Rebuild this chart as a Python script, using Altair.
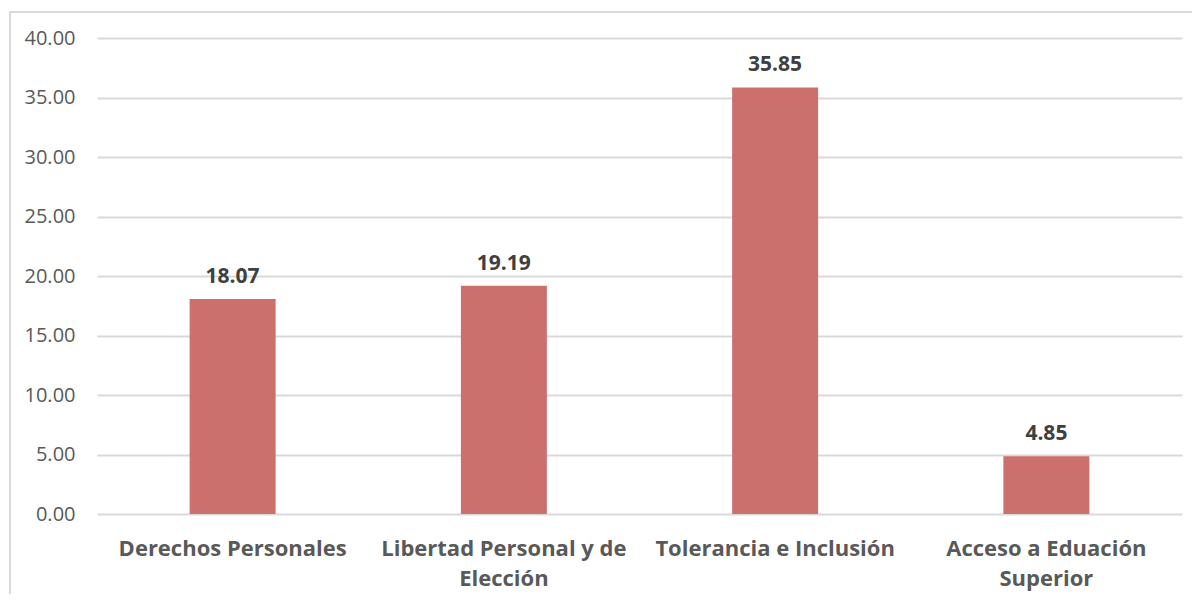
import altair as alt
import pandas as pd

categories = ["Derechos Personales", "Libertad Personal y de|Elección",
              "Tolerancia e Inclusión", "Acceso a Eduación|Superior"]
values = [18.07, 19.19, 35.85, 4.85]

df = pd.DataFrame({"cat": categories, "val": values})

W, H = 1085, 476
FONT = "Open Sans"

x = alt.X("cat:N", sort=categories, title=None,
          scale=alt.Scale(paddingInner=0, paddingOuter=0),
          axis=alt.Axis(labelExpr="split(datum.label, '|')", labelAngle=0,
                        labelFont=FONT, labelFontSize=22, labelFontWeight="bold",
                        labelColor="#595959", labelPadding=24, labelLineHeight=30,
                        labelLimit=0, ticks=False, domain=False, labelBaseline="top"))
y = alt.Y("val:Q", title=None,
          scale=alt.Scale(domain=[0, 40], nice=False),
          axis=alt.Axis(values=[0, 5, 10, 15, 20, 25, 30, 35, 40], format=".2f",
                        labelFont=FONT, labelFontSize=20, labelColor="#595959",
                        labelPadding=22, ticks=False, domain=False,
                        grid=True, gridColor="#D9D9D9", gridWidth=2))

bars = alt.Chart(df).mark_bar(size=86, color="#CC706E").encode(x=x, y=y)
text = alt.Chart(df).mark_text(dy=-16, baseline="alphabetic", font=FONT, fontSize=21,
                               fontWeight="bold", color="#404040").encode(
    x=alt.X("cat:N", sort=categories), y="val:Q", text=alt.Text("val:Q", format=".2f"))
border = alt.Chart(df).mark_rect(fill=None, stroke="#D9D9D9", strokeWidth=2).encode(
    x=alt.value(-87), x2=alt.value(1200), y=alt.value(-26), y2=alt.value(700))

chart = alt.layer(border, bars, text).properties(
    width=W, height=H,
    padding={"left": 89, "top": 30, "right": 10, "bottom": 80},
    autosize=alt.AutoSizeParams(type="none"),
).configure_view(stroke=None)

chart.save("out.html", embed_options={"renderer": "svg", "actions": False})
